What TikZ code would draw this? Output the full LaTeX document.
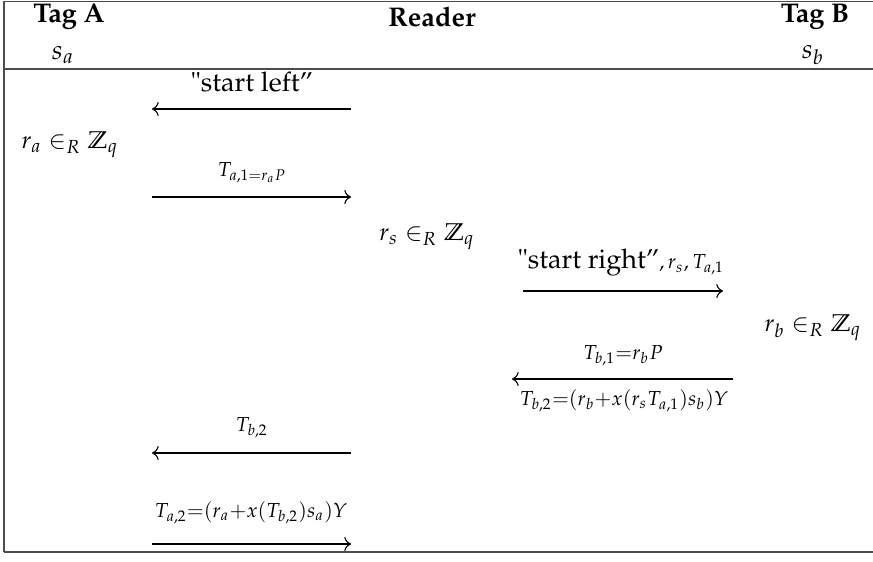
\documentclass[tikz,border=0pt]{standalone}
\usepackage[T1]{fontenc}
\usepackage{mathpazo}
\usepackage{amssymb}
\usetikzlibrary{arrows.meta}
\begin{document}
\begin{tikzpicture}[x=0.37pt,y=-0.37pt,
  party/.style={font=\bfseries},
  pick/.style={font=\small},
  msg/.style={font=\fontsize{7.5}{9}\selectfont,inner sep=1pt},
  say/.style={inner sep=1pt},
  arr/.style={->,line width=0.4pt},
  rule/.style={draw=black!70,line width=0.6pt}
]
\useasboundingbox (0,0) rectangle (873,562);
% header
\node[party] (tagA) at (69,17) {Tag A};
\node[party] (reader) at (432,17) {Reader};
\node[party] (tagB) at (815,17) {Tag B};
\node (sa) at (63,55) {$s_a$};
\node (sb) at (813,55) {$s_b$};
\draw[rule] (4,1.5) -- (873,1.5);
\draw[rule] (4,69) -- (873,69);
\draw[rule] (4,552) -- (873,552);
\draw[rule] (4,1.5) -- (4,552);
% lanes
\coordinate (l1) at (152,109); \coordinate (r1) at (351,109);
\coordinate (l2) at (152,197); \coordinate (r2) at (351,197);
\coordinate (l3) at (523,291); \coordinate (r3) at (723,291);
\coordinate (l4) at (512,379); \coordinate (r4) at (733,379);
\coordinate (l5) at (152,453); \coordinate (r5) at (351,453);
\coordinate (l6) at (152,544); \coordinate (r6) at (351,544);
% random choices
\node[pick] (ra) at (70,145) {$r_a \in_R \mathbb{Z}_q$};
\node[pick] (rs) at (427,237) {$r_s \in_R \mathbb{Z}_q$};
\node[pick] (rb) at (813,328) {$r_b \in_R \mathbb{Z}_q$};
% messages
\node[say] (m1) at (252,82) {"start left''};
\node[msg] (m2) at (252,173) {$T_{a,1=r_aP}$};
\node[say] (m3) at (621,263) {"start right''{\fontsize{7.5}{9}\selectfont$,r_s,T_{a,1}$}};
\node[msg] (m4) at (623,356) {$T_{b,1}{=}r_bP$};
\node[msg] (m5) at (624,401) {$T_{b,2}{=}(r_b{+}x(r_sT_{a,1})s_b)Y$};
\node[msg] (m6) at (252,428) {$T_{b,2}$};
\node[msg] (m7) at (251,513) {$T_{a,2}{=}(r_a{+}x(T_{b,2})s_a)Y$};
\draw[arr] (r1) -- (l1);
\draw[arr] (l2) -- (r2);
\draw[arr] (l3) -- (r3);
\draw[arr] (r4) -- (l4);
\draw[arr] (r5) -- (l5);
\draw[arr] (l6) -- (r6);
\end{tikzpicture}
\end{document}
